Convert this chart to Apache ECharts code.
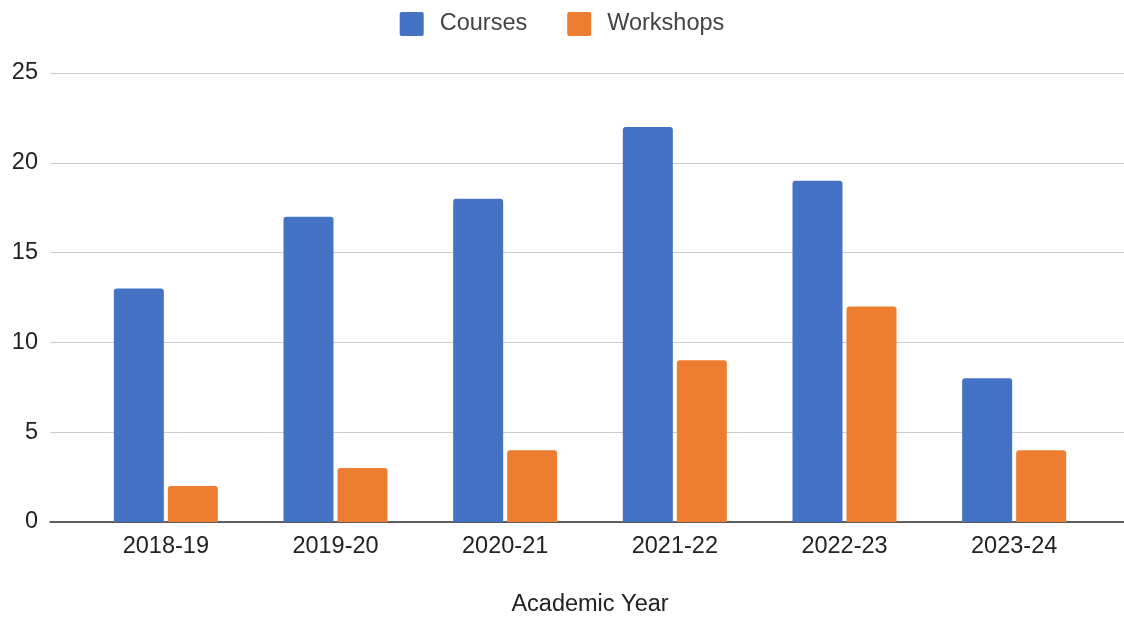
<!DOCTYPE html>
<html>
<head>
<meta charset="utf-8">
<script src="https://cdn.jsdelivr.net/npm/echarts@6/dist/echarts.min.js"></script>
<style>
html,body{margin:0;padding:0;background:#fff;}
#chart{width:1124px;height:618px;}
</style>
</head>
<body>
<div id="chart"></div>
<script>
const categories = ['2018-19','2019-20','2020-21','2021-22','2022-23','2023-24'];
const courses = [13, 17, 18, 22, 19, 8];
const workshops = [2, 3, 4, 9, 12, 4];
const seriesNames = ['Courses', 'Workshops'];
const xAxisTitle = 'Academic Year';
const yMin = 0, yMax = 25, yStep = 5;

const font = '"Liberation Sans", Arial, sans-serif';
const chart = echarts.init(document.getElementById('chart'));
chart.setOption({
  animation: false,
  color: ['#4472c4', '#ed7d31'],
  legend: {
    top: 12, left: 'center', padding: 0,
    itemWidth: 24, itemHeight: 24, itemGap: 40,
    icon: 'path://M2,0 H22 Q24,0 24,2 V22 Q24,24 22,24 H2 Q0,24 0,22 V2 Q0,0 2,0 Z',
    textStyle: { fontFamily: font, fontSize: 23.5, color: '#444', padding: [0, 0, 0, 11] },
    data: seriesNames
  },
  grid: [
    { left: 81, right: 25, top: 73, bottom: 96, outerBoundsMode: 'none', containLabel: false },
    { left: 50, right: 0, top: 73, bottom: 96, outerBoundsMode: 'none', containLabel: false }
  ],
  xAxis: [
    {
      type: 'category', gridIndex: 0, data: categories,
      axisLine: { show: false }, axisTick: { show: false },
      axisLabel: { fontFamily: font, fontSize: 23.5, color: '#222', margin: 13 },
      name: xAxisTitle, nameLocation: 'middle', nameGap: 71,
      nameTextStyle: { fontFamily: font, fontSize: 23.5, color: '#222', verticalAlign: 'top' }
    },
    {
      type: 'value', gridIndex: 1, min: 0, max: 1,
      axisLine: { show: true, onZero: false, lineStyle: { color: '#333', width: 1.5 } },
      axisTick: { show: false }, axisLabel: { show: false }, splitLine: { show: false }
    }
  ],
  yAxis: [
    { type: 'value', gridIndex: 0, min: yMin, max: yMax, interval: yStep, show: false },
    {
      type: 'value', gridIndex: 1, min: yMin, max: yMax, interval: yStep,
      axisLine: { show: false }, axisTick: { show: false },
      axisLabel: { fontFamily: font, fontSize: 23.5, color: '#222', margin: 12, padding: [12, 0, 0, 0] },
      splitLine: { lineStyle: { color: '#cccccc', width: 1.2 } }
    }
  ],
  series: [
    {
      name: seriesNames[0], type: 'bar', data: courses, xAxisIndex: 0, yAxisIndex: 0,
      barWidth: 50, barGap: '8%', itemStyle: { borderRadius: [3, 3, 0, 0] }
    },
    {
      name: seriesNames[1], type: 'bar', data: workshops, xAxisIndex: 0, yAxisIndex: 0,
      barWidth: 50, barGap: '8%', itemStyle: { borderRadius: [3, 3, 0, 0] }
    }
  ]
});
</script>
</body>
</html>
